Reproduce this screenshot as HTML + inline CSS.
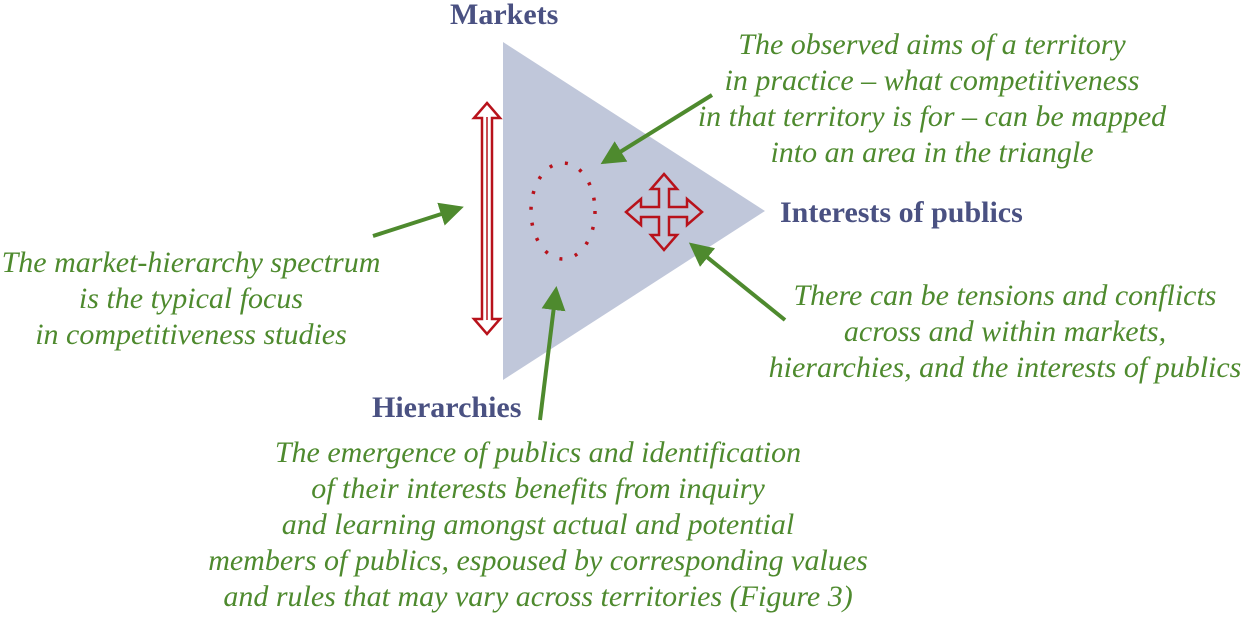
<!DOCTYPE html>
<html><head><meta charset="utf-8"><style>
html,body{margin:0;padding:0;background:#fff;}
body{width:1245px;height:622px;position:relative;overflow:hidden;font-family:"Liberation Serif",serif;}
.t{position:absolute;color:#4e8a2e;font-style:italic;font-size:30px;line-height:36px;text-align:center;white-space:nowrap;transform:translateX(-50%);}
.l{position:absolute;color:#4a5182;font-weight:bold;font-size:30px;white-space:nowrap;line-height:30px;}
svg{position:absolute;left:0;top:0;}
</style></head><body>
<svg width="1245" height="622" viewBox="0 0 1245 622">
<defs><marker id="g" markerWidth="8" markerHeight="8" refX="5" refY="4" orient="auto" markerUnits="strokeWidth"><path d="M0,1 L6,4 L0,7 z" fill="#4e8a2e"/></marker></defs>
<polygon points="503,42 765,211 503,380" fill="#c0c7da"/>
<path d="M487,103 L500,118 L492,118 L492,319 L500,319 L487,334 L474,319 L482,319 L482,118 L474,118 Z" fill="#fff" stroke="#b8121b" stroke-width="2.5"/>
<line x1="487" y1="117" x2="487" y2="320" stroke="#b8121b" stroke-width="1.5"/>
<ellipse cx="563" cy="211" rx="32" ry="48" fill="none" stroke="#b8121b" stroke-width="3.5" stroke-dasharray="3,13"/>
<path d="M664,174 L677,189 L669,189 L669,207 L687,207 L687,199 L702,212 L687,225 L687,217 L669,217 L669,235 L677,235 L664,250 L651,235 L659,235 L659,217 L641,217 L641,225 L626,212 L641,199 L641,207 L659,207 L659,189 L651,189 Z" fill="none" stroke="#b8121b" stroke-width="2.5"/>
<g stroke="#4e8a2e" stroke-width="4" marker-end="url(#g)">
<line x1="712" y1="95" x2="604" y2="162"/>
<line x1="373" y1="236" x2="460" y2="208"/>
<line x1="540" y1="420" x2="556" y2="290"/>
<line x1="785" y1="320" x2="692" y2="245"/>
</g>
</svg>
<div class="l" style="left:450px;top:0px;">Markets</div>
<div class="l" style="left:780px;top:198px;">Interests of publics</div>
<div class="l" style="left:372px;top:393px;">Hierarchies</div>
<div class="t" style="left:932px;top:27px;">The observed aims of a territory<br>in practice – what competitiveness<br>in that territory is for – can be mapped<br>into an area in the triangle</div>
<div class="t" style="left:191px;top:245px;">The market-hierarchy spectrum<br>is the typical focus<br>in competitiveness studies</div>
<div class="t" style="left:1005px;top:278px;">There can be tensions and conflicts<br>across and within markets,<br>hierarchies, and the interests of publics</div>
<div class="t" style="left:538px;top:435px;">The emergence of publics and identification<br>of their interests benefits from inquiry<br>and learning amongst actual and potential<br>members of publics, espoused by corresponding values<br>and rules that may vary across territories (Figure 3)</div>
</body></html>
